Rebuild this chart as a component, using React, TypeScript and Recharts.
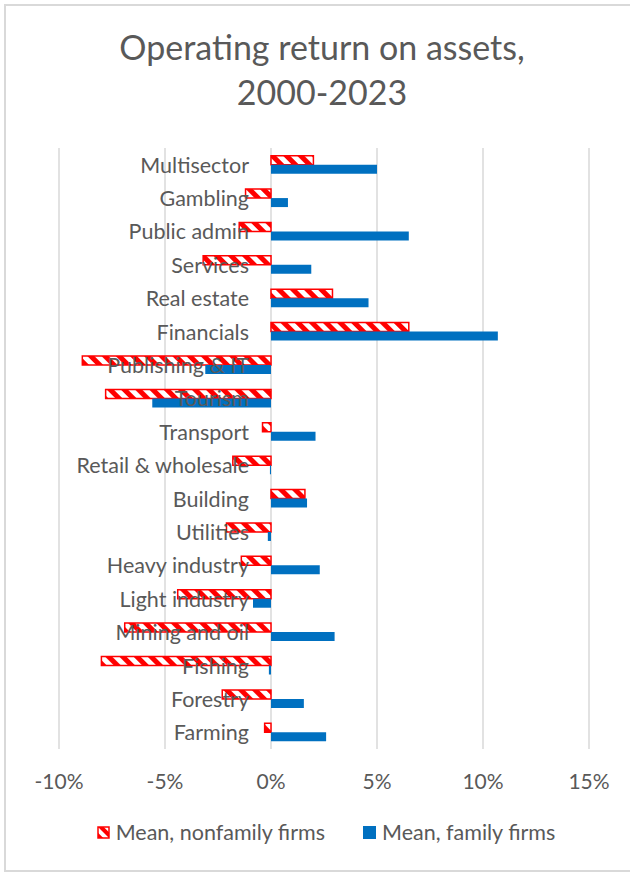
import React from 'react';
import { BarChart, Bar, XAxis, YAxis, CartesianGrid, LabelList, Legend } from 'recharts';

const categories = [
  'Multisector',
  'Gambling',
  'Public admin',
  'Services',
  'Real estate',
  'Financials',
  'Publishing & IT',
  'Tourism',
  'Transport',
  'Retail & wholesale',
  'Building',
  'Utilities',
  'Heavy industry',
  'Light industry',
  'Mining and oil',
  'Fishing',
  'Forestry',
  'Farming',
];

// Mean operating return on assets, in percent
const nonfamilyMeans = [2.0, -1.2, -1.5, -3.2, 2.9, 6.5, -8.9, -7.8, -0.4, -1.8, 1.6, -2.1, -1.4, -4.4, -6.9, -8.0, -2.3, -0.3];
const familyMeans = [5.0, 0.8, 6.5, 1.9, 4.6, 10.7, -3.1, -5.6, 2.1, -0.05, 1.7, -0.15, 2.3, -0.85, 3.0, -0.1, 1.55, 2.6];

const xTicks = [-10, -5, 0, 5, 10, 15];
const seriesNames = ['Mean, nonfamily firms', 'Mean, family firms'];
const titleLines = ['Operating return on assets,', '2000-2023'];

const data = categories.map((category, i) => ({
  category,
  nonfamily: nonfamilyMeans[i],
  family: familyMeans[i],
}));

const FONT = 'Lato, "Noto Sans", sans-serif';
const TEXT = '#595959';
const RED = '#FF0000';
const BLUE = '#0070C0';
const GRID = '#D9D9D9';

const XTick = (props: any) => {
  const { x, y, payload } = props;
  return (
    <text x={x} y={y} dy="0.35em" textAnchor="middle" fill={TEXT} fontSize={21} fontFamily={FONT}>
      {`${payload.value}%`}
    </text>
  );
};

const CategoryLabel = (props: any) => {
  const vb = props.viewBox || {};
  const x = props.x ?? vb.x;
  const y = props.y ?? vb.y;
  const width = props.width ?? vb.width ?? 0;
  const idx = props.index;
  const val = familyMeans[idx] ?? 0;
  const zeroX = width > 0 && val < 0 ? x + width : x;
  return (
    <text
      x={zeroX - 22}
      y={y}
      textAnchor="end"
      dominantBaseline="central"
      fill={TEXT}
      fontSize={21.5}
      fontFamily={FONT}
    >
      {props.value}
    </text>
  );
};

const LegendContent = () => (
  <div
    style={{
      display: 'flex',
      justifyContent: 'center',
      alignItems: 'center',
      fontFamily: FONT,
      fontSize: 21.5,
      color: TEXT,
      paddingLeft: 22,
    }}
  >
    <div style={{ display: 'flex', alignItems: 'center', marginRight: 38 }}>
      <svg width={13} height={13} style={{ marginRight: 6 }}>
        <defs>
          <pattern id="legendStripes" patternUnits="userSpaceOnUse" width="8" height="8" patternTransform="rotate(-45)">
            <rect width="8" height="8" fill="#fff" />
            <rect width="4" height="8" fill={RED} />
          </pattern>
        </defs>
        <rect x={1} y={1} width={11} height={11} fill="url(#legendStripes)" stroke={RED} strokeWidth={1.5} />
      </svg>
      <span>{seriesNames[0]}</span>
    </div>
    <div style={{ display: 'flex', alignItems: 'center' }}>
      <svg width={13} height={13} style={{ marginRight: 6 }}>
        <rect x={0} y={0} width={13} height={13} fill={BLUE} />
      </svg>
      <span>{seriesNames[1]}</span>
    </div>
  </div>
);

export default function App() {
  return (
    <div
      style={{
        position: 'absolute',
        left: 0,
        top: 0,
        width: 630,
        height: 872,
        background: '#fff',
        overflow: 'hidden',
      }}
    >
      <div
        style={{
          position: 'absolute',
          left: 4,
          top: 4,
          width: 700,
          height: 868,
          boxSizing: 'border-box',
          border: `2px solid ${GRID}`,
        }}
      />
      <div
        style={{
          position: 'absolute',
          left: 0,
          top: 24,
          width: 644,
          textAlign: 'center',
          fontFamily: FONT,
          fontSize: 34,
          lineHeight: '45px',
          color: TEXT,
        }}
      >
        {titleLines.map((t) => (
          <div key={t}>{t}</div>
        ))}
      </div>
      <div style={{ position: 'absolute', left: 0, top: 0 }}>
        <BarChart
          width={630}
          height={872}
          data={data}
          layout="vertical"
          margin={{ top: 148, right: 41, bottom: 83, left: 59 }}
          barCategoryGap="23%"
          barGap={0}
        >
          <defs>
            <pattern id="redStripes" patternUnits="userSpaceOnUse" width="10" height="10" patternTransform="rotate(-45)">
              <rect width="10" height="10" fill="#fff" />
              <rect width="5" height="10" fill={RED} />
            </pattern>
          </defs>
          <CartesianGrid horizontal={false} stroke={GRID} strokeWidth={1.5} />
          <XAxis
            type="number"
            domain={[-10, 15]}
            ticks={xTicks}
            interval={0}
            axisLine={false}
            tickLine={false}
            tickSize={0}
            tickMargin={33}
            height={40}
            tick={<XTick />}
          />
          <YAxis type="category" dataKey="category" hide />
          <Bar
            dataKey="nonfamily"
            name={seriesNames[0]}
            fill="url(#redStripes)"
            stroke={RED}
            strokeWidth={1.5}
            isAnimationActive={false}
          />
          <Bar dataKey="family" name={seriesNames[1]} fill={BLUE} isAnimationActive={false}>
            <LabelList dataKey="category" content={<CategoryLabel />} />
          </Bar>
          <Legend
            layout="horizontal"
            verticalAlign="middle"
            align="center"
            wrapperStyle={{ top: 819, left: 0, width: 630 }}
            content={<LegendContent />}
          />
        </BarChart>
      </div>
    </div>
  );
}
